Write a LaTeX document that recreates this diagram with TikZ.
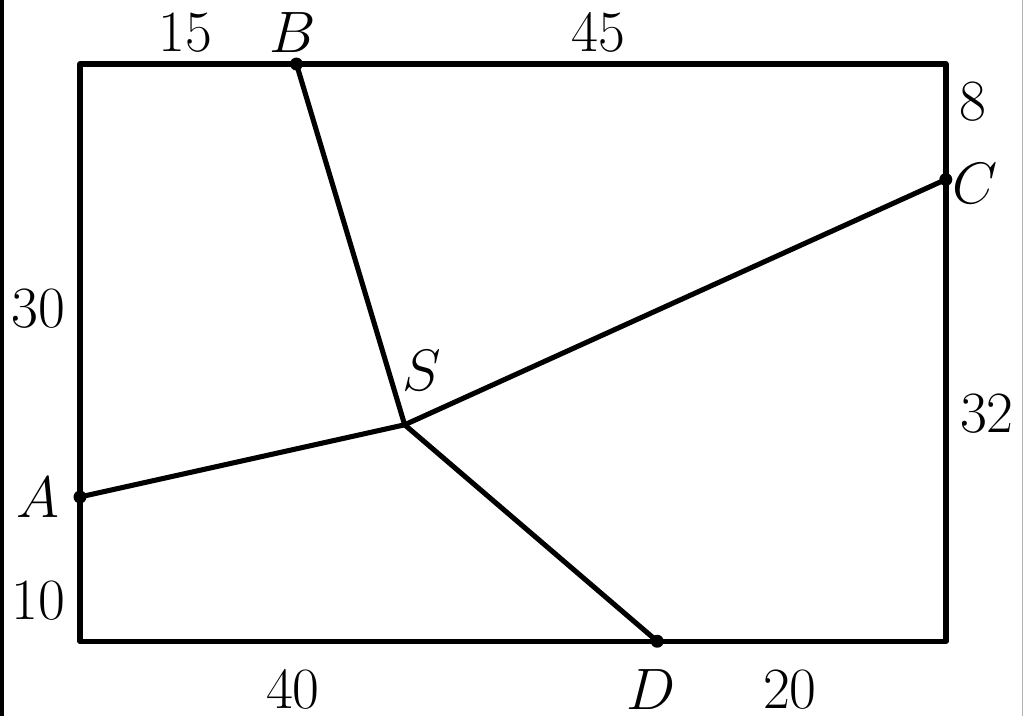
\documentclass[tikz,border=0pt]{standalone}
\usepackage{tikz}
\usepackage{tkz-euclide}
\begin{document}
\begin{tikzpicture}[x=0.15cm,y=0.15cm,font=\fontsize{16}{19}\selectfont]
        \useasboundingbox (-5.544,-5.14) rectangle (65.42,44.44);
        \tkzDefPoint(0,0){O} \tkzDefPoint(60,0){R}
        \tkzDefPoint(60,40){Q} \tkzDefPoint(0,40){T}
        \tkzDefPoint(0,10){A} \tkzDefPoint(15,40){B}
        \tkzDefPoint(60,32){C} \tkzDefPoint(40,0){D}
        \tkzDefPoint(22.5,15){S}
        \tkzDefPoint(-5.47,-5.14){L1} \tkzDefPoint(-5.47,44.44){L2}
        \tkzDefPoint(65.3,-5.14){R1} \tkzDefPoint(65.3,44.44){R2}

        \tkzDrawPolygon[color=black,line width=1.6pt](O,R,Q,T)
        \tkzDrawSegments[color=black,line width=1.5pt](S,A S,B S,C S,D)
        \tkzDrawSegments[color=black,line width=1.5pt](L1,L2)
        \tkzDrawSegments[color=gray!60,line width=0.4pt](R1,R2)
        \foreach \p in {A,B,C,D} \fill (\p) circle (0.45);

        \node at (7.28,42.15) {$15$};
        \node at (14.76,42.15) {$B$};
        \node at (35.9,42.15) {$45$};
        \node at (61.9,37.4) {$8$};
        \node at (62.0,31.7) {$C$};
        \node at (-2.9,23.05) {$30$};
        \node at (23.7,18.75) {$S$};
        \node at (62.85,15.76) {$32$};
        \node at (-2.9,9.93) {$A$};
        \node at (-2.9,2.78) {$10$};
        \node at (14.76,-3.33) {$40$};
        \node at (39.6,-3.33) {$D$};
        \node at (49.2,-3.33) {$20$};
    \end{tikzpicture}
\end{document}
